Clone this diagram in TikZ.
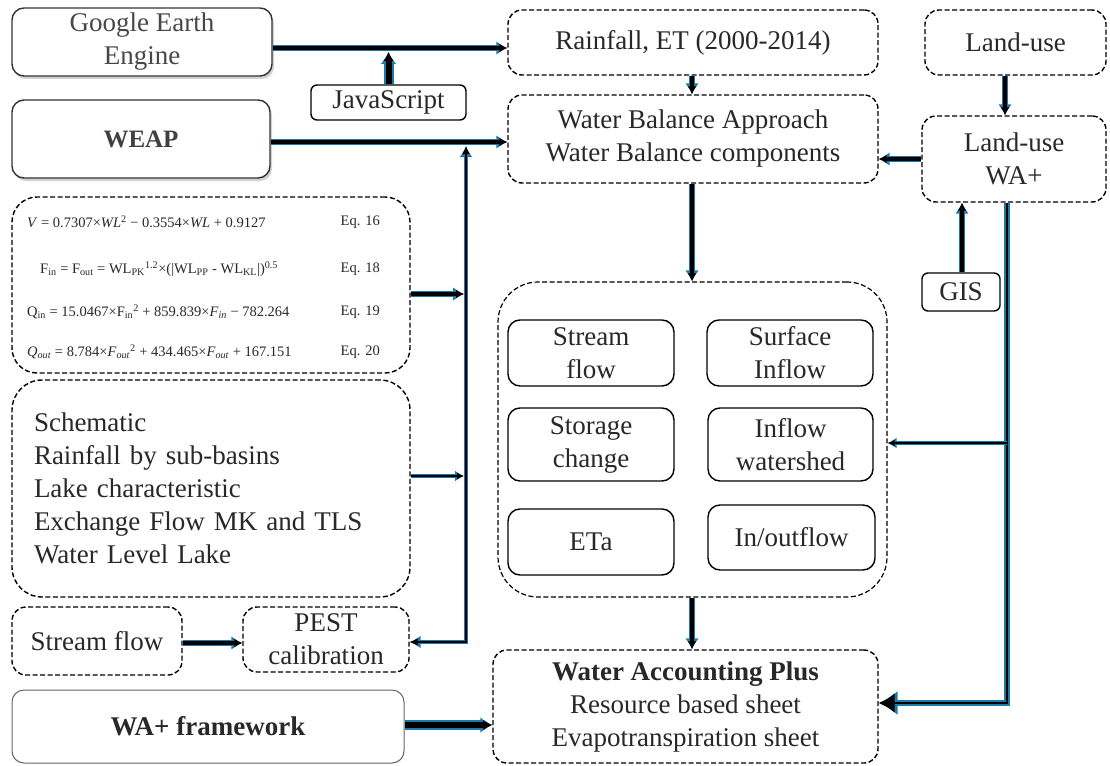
\documentclass[tikz,border=0pt]{standalone}
\usepackage{fontspec}
\setmainfont{Liberation Serif}
\usetikzlibrary{arrows.meta,shadows}
\definecolor{wblue}{RGB}{28,122,168}
\definecolor{ink}{RGB}{40,40,40}
\begin{document}
\begin{tikzpicture}[x=1pt,y=-1pt]
\tikzset{
  base/.style={align=center, text=ink, font=\fontsize{27}{33}\selectfont, inner sep=0pt, line width=1.4pt},
  solidbox/.style={base, draw=black!80, rounded corners=12pt},
  dashbox/.style={base, draw=black, dash pattern=on 5pt off 2.5pt, rounded corners=14pt},
  smallbox/.style={base, draw=black, rounded corners=6pt},
  gshadow/.style={drop shadow={shadow xshift=2pt, shadow yshift=-3pt, opacity=.35}},
  eqtext/.style={inner sep=0pt, text=ink, font=\fontsize{14.5}{16}\selectfont},
  conA/.style={draw=black, line width=3.5pt, arrows={-Latex[length=8pt,width=9pt]},
    preaction={draw=wblue, line width=6.5pt, arrows={-Latex[length=11pt,width=14pt]}}},
  conB/.style={draw=black, line width=2pt, arrows={-Latex[length=7pt,width=7pt]},
    preaction={draw=wblue, line width=4.5pt, arrows={-Latex[length=9pt,width=11pt]}}},
  conBB/.style={draw=black, line width=2pt, arrows={Latex[length=8pt,width=8pt]-Latex[length=8pt,width=8pt]},
    preaction={draw=wblue, line width=4.5pt, arrows={Latex[length=11pt,width=13pt]-Latex[length=11pt,width=13pt]}}},
  conC/.style={draw=black, line width=6pt, arrows={-Latex[length=9pt,width=11pt]},
    preaction={draw=wblue, line width=10pt, arrows={-Latex[length=12pt,width=16pt]}}},
  conD/.style={draw=black, line width=2.6pt, arrows={-Latex[length=16pt,width=20pt]},
    preaction={draw=wblue, line width=5.5pt, arrows={-Latex[length=19pt,width=25pt]}}},
}
\fill[white] (0,0) rectangle (1110,765);
\useasboundingbox (0,0) rectangle (1110,765);

% left column
\node[solidbox, gshadow, fill=white, text=black!72, minimum width=260pt, minimum height=68pt] (gee) at (142,42) {Google Earth\\Engine};
\node[solidbox, gshadow, fill=white, text=black!75, font=\fontsize{25}{30}\bfseries, minimum width=258pt, minimum height=78pt] (weap) at (141,139) {WEAP};
\node[smallbox, minimum width=155pt, minimum height=35pt] (js) at (388.5,102.5) {JavaScript};

\node[dashbox, rounded corners=25pt, minimum width=398pt, minimum height=176pt] (eqbox) at (211,285) {};
\node[eqtext, anchor=west] (e1) at (27,222) {\textit{V} = 0.7307×\textit{WL}\textsuperscript{2} − 0.3554×\textit{WL} + 0.9127};
\node[eqtext, anchor=west] (e2) at (40,269) {F\textsubscript{in} = F\textsubscript{out} = WL\textsubscript{PK}\textsuperscript{1.2}×(|WL\textsubscript{PP} - WL\textsubscript{KL}|)\textsuperscript{0.5}};
\node[eqtext, anchor=west] (e3) at (27,312) {Q\textsubscript{in} = 15.0467×F\textsubscript{in}\textsuperscript{2} + 859.839×\textit{F}\textsubscript{\textit{in}} − 782.264};
\node[eqtext, anchor=west] (e4) at (27,352) {\textit{Q}\textsubscript{\textit{out}} = 8.784×\textit{F}\textsubscript{\textit{out}}\textsuperscript{2} + 434.465×\textit{F}\textsubscript{\textit{out}} + 167.151};
\node[eqtext, anchor=east] (l1) at (380,222) {Eq. 16};
\node[eqtext, anchor=east] (l2) at (380,269) {Eq. 18};
\node[eqtext, anchor=east] (l3) at (380,312) {Eq. 19};
\node[eqtext, anchor=east] (l4) at (380,352) {Eq. 20};

\node[dashbox, rounded corners=30pt, minimum width=398pt, minimum height=217pt, align=left, text width=354pt] (sch) at (211,488.5)
  {Schematic\\Rainfall by sub-basins\\Lake characteristic\\Exchange Flow MK and TLS\\Water Level Lake};
\node[dashbox, minimum width=170pt, minimum height=68pt] (sf) at (97,641) {Stream flow};
\node[dashbox, minimum width=166pt, minimum height=65pt] (pest) at (326,639.5) {PEST\\calibration};
\node[solidbox, draw=black!60, line width=1pt, font=\fontsize{27}{33}\bfseries, minimum width=392pt, minimum height=73pt] (waf) at (208,726.5) {WA+ framework};

% middle column
\node[dashbox, minimum width=370pt, minimum height=65pt] (rain) at (693,42.5) {Rainfall, ET (2000-2014)};
\node[dashbox, minimum width=370pt, minimum height=88pt] (wb) at (693,139) {Water Balance Approach\\Water Balance components};
\node[dashbox, line width=1.2pt, rounded corners=40pt, minimum width=389pt, minimum height=315pt] (cont) at (692.5,439.5) {};
\node[solidbox, draw=black, minimum width=166pt, minimum height=66pt] (i1) at (591,353) {Stream\\flow};
\node[solidbox, draw=black, minimum width=166pt, minimum height=66pt] (i2) at (790,353) {Surface\\Inflow};
\node[solidbox, draw=black, minimum width=166pt, minimum height=73pt] (i3) at (591,444.5) {Storage\\change};
\node[solidbox, draw=black, minimum width=165pt, minimum height=73pt] (i4) at (790.5,444.5) {Inflow\\watershed};
\node[solidbox, draw=black, minimum width=166pt, minimum height=66pt] (i5) at (591,542) {ETa};
\node[solidbox, draw=black, minimum width=167pt, minimum height=65pt] (i6) at (791.5,537.5) {In/outflow};
\node[dashbox, minimum width=385pt, minimum height=113pt] (wap) at (685.5,706.5)
  {\textbf{Water Accounting Plus}\\Resource based sheet\\Evapotranspiration sheet};

% right column
\node[dashbox, minimum width=181pt, minimum height=65pt] (land) at (1015.5,42.5) {Land-use};
\node[dashbox, minimum width=184pt, minimum height=86pt] (luwa) at (1014,159) {Land-use\\WA+};
\node[smallbox, minimum width=78pt, minimum height=38pt] (gis) at (961,292) {GIS};

% helper coordinates
\coordinate (vt) at (466,146);
\coordinate (vb) at (466,642);
\coordinate (veq) at (464,294);
\coordinate (vsch) at (464,476);
\coordinate (rb) at (1007,443);
\coordinate (rc) at (1007,703);

% connectors
\draw[conA] (gee.east |- 0,48) -- (rain.west |- 0,48);
\draw[conC] (js.north) -- (js.north |- 0,52);
\draw[conA] (weap.east |- 0,142) -- (wb.west |- 0,142);
\draw[conA] (rain.south -| 692,0) -- (wb.north -| 692,0);
\draw[conA] (land.south -| 1005,0) -- (luwa.north -| 1005,0);
\draw[conA] (luwa.west) -- (wb.east |- luwa.west);
\draw[conA] (gis.north -| 962,0) -- (luwa.south -| 962,0);
\draw[conA] (wb.south -| 692,0) -- (cont.north -| 692,0);
\draw[conA] (cont.south -| 692,0) -- (wap.north -| 692,0);
\draw[conBB] (vt) -- (vb) -- (pest.east |- vb);
\draw[conA] (eqbox.east |- veq) -- (veq);
\draw[conB] (sch.east |- vsch) -- (vsch);
\draw[conA] (sf.east |- 0,643) -- (pest.west |- 0,643);
\draw[conC] (waf.east |- 0,725) -- (wap.west |- 0,725);
\draw[conD] (luwa.south -| rc) -- (rc) -- (wap.east |- rc);
\draw[conB] (rb) -- (cont.east |- rb);
\end{tikzpicture}
\end{document}
